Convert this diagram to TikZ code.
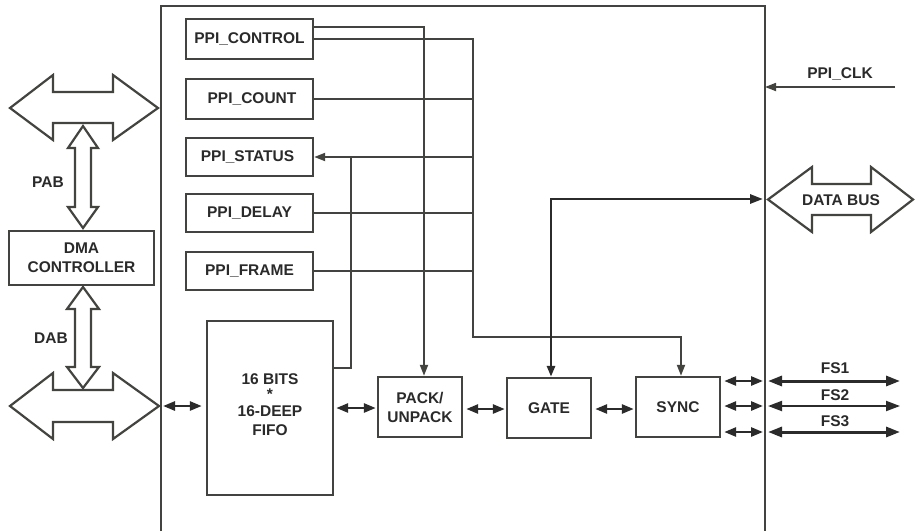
\documentclass[tikz,border=0pt]{standalone}
\usepackage{fontspec}
\setmainfont{Liberation Sans}
\usetikzlibrary{arrows.meta,calc}
\definecolor{linec}{HTML}{43443F}
\definecolor{textc}{HTML}{2A2A2A}
\definecolor{arrc}{HTML}{2B2B2B}
\tikzset{
  blk/.style={draw=linec, line width=2.4pt, fill=white, text=textc, inner sep=0pt,
    font=\fontsize{15.5}{19}\selectfont\bfseries, align=center},
  lbl/.style={text=textc, inner sep=0pt, font=\fontsize{15.5}{19}\selectfont\bfseries, align=center},
  wire/.style={draw=linec, line width=1.9pt},
  tipw/.style={-{Triangle[length=11pt,width=8pt]}},
  busline/.style={draw=arrc, line width=2.8pt},
  dbl/.style={draw=arrc, line width=2.6pt, {Triangle[length=12pt,width=9pt]}-{Triangle[length=12pt,width=9pt]}},
  fsl/.style={draw=arrc, {Triangle[length=14pt,width=10pt]}-{Triangle[length=14pt,width=10pt]}},
  hollow/.style={draw=linec, line width=2.2pt, fill=white, line join=miter}
}
\begin{document}
\begin{tikzpicture}[x=1pt,y=-1pt]
\useasboundingbox[fill=white] (0,0) rectangle (915,531);

% main block (open at the bottom)
\coordinate (mL) at (161,0);
\coordinate (mR) at (765,0);
\draw[draw=linec, line width=2.4pt] (161,531) -- (161,6) -- (765,6) -- (765,531);

% register boxes
\node[blk, minimum width=127pt, minimum height=40pt] (ctrl)   at (249.5,39) {PPI\_CONTROL};
\node[blk, minimum width=127pt, minimum height=40pt] (count)  at (249.5,99) {\hspace*{5pt}PPI\_COUNT};
\node[blk, minimum width=127pt, minimum height=38pt] (status) at (249.5,157)  {PPI\_STATUS\hspace*{4pt}};
\node[blk, minimum width=127pt, minimum height=38pt] (delay)  at (249.5,213)  {PPI\_DELAY};
\node[blk, minimum width=127pt, minimum height=38pt] (frame)  at (249.5,271){PPI\_FRAME};

% datapath blocks
\node[blk, minimum width=126pt, minimum height=174pt] (fifo) at (270,408) {};
\node[lbl] (fifotxt) at (270,405) {16 BITS\\[-4pt]*\\[-2pt]16-DEEP\\FIFO};
\node[blk, minimum width=84pt, minimum height=60pt] (pack) at (420,407) {PACK/\\UNPACK};
\node[blk, minimum width=84pt, minimum height=60pt] (gate) at (549,408) {GATE};
\node[blk, minimum width=84pt, minimum height=60pt] (sync) at (678,407) {SYNC};
\node[blk, minimum width=145pt, minimum height=54pt] (dma) at (81.5,258) {DMA\\CONTROLLER};

% hollow bus arrows (left)
\draw[hollow] (10,108) -- (53,75) -- (53,92) -- (113,92) -- (113,75) -- (158,108)
  -- (113,140) -- (113,123) -- (53,123) -- (53,140) -- cycle;
\draw[hollow] (10,406) -- (53,373) -- (53,390) -- (113,390) -- (113,373) -- (159,406)
  -- (113,439) -- (113,422) -- (53,422) -- (53,439) -- cycle;
\draw[hollow] (83,126) -- (98,148) -- (91,148) -- (91,207) -- (98,207) -- (83,228)
  -- (68,207) -- (75,207) -- (75,148) -- (68,148) -- cycle;
\draw[hollow] (83,287) -- (99,309) -- (91,309) -- (91,367) -- (99,367) -- (83,388)
  -- (67,367) -- (75,367) -- (75,309) -- (67,309) -- cycle;
\node[lbl] (pab) at (48,182) {PAB};
\node[lbl] (dab) at (51,338) {DAB};

% data bus hollow arrow (right)
\draw[hollow] (768,199.5) -- (812,167) -- (812,184) -- (871,184) -- (871,167) -- (913,199.5)
  -- (871,232) -- (871,215) -- (812,215) -- (812,232) -- cycle;
\node[lbl] (dbus) at (841,200) {DATA BUS};

% control wiring
\draw[wire, tipw] (ctrl.east |- 0,27) -- (424,27) -- (pack.north -| 424,0);
\draw[wire, tipw] (ctrl.east) -- (ctrl.east -| 473,0) -- (473,337) -- (681,337) -- (sync.north -| 681,0);
\draw[wire] (count.east) -- (count.east -| 473,0);
\draw[wire, tipw] (status.east -| 473,0) -- (status.east);
\draw[wire] (delay.east) -- (delay.east -| 473,0);
\draw[wire] (frame.east) -- (frame.east -| 473,0);
\draw[wire] (fifo.east |- 0,368) -- (351,368) -- (351,157);

% data bus connection
\draw[busline, {Triangle[length=11pt,width=8pt]}-{Triangle[length=13pt,width=9pt]}]
  (gate.north -| 551,0) -- (551,199) -- (763,199);

% PPI_CLK
\coordinate (clkin) at (895,87);
\draw[wire, line width=1.7pt, tipw] (clkin) -- (mR |- clkin);
\node[lbl] (clk) at (840,74) {PPI\_CLK};

% short double arrows
\draw[dbl, shorten <=2pt, shorten >=4pt] (mL |- 0,406) -- (fifo.west |- 0,406);
\draw[dbl, shorten <=2pt, shorten >=1pt] (fifo.east) -- (pack.west |- fifo.east);
\draw[dbl, shorten <=3pt, shorten >=1pt] (pack.east |- 0,409) -- (gate.west |- 0,409);
\draw[dbl, shorten <=3pt, shorten >=1pt] (gate.east |- 0,409) -- (sync.west |- 0,409);
\foreach \yy/\nm in {381/a,406/b,432/c}{
  \draw[dbl, shorten <=3pt, shorten >=2pt] (sync.east |- 0,\yy) -- (mR |- 0,\yy);
}
% external frame sync lines
\draw[fsl, line width=3pt] (768,381) -- (900,381);
\draw[fsl, line width=2pt] (768,406) -- (900,406);
\draw[fsl, line width=3pt] (768,432) -- (900,432);
\node[lbl] (fs1) at (835,368) {FS1};
\node[lbl] (fs2) at (835,395) {FS2};
\node[lbl] (fs3) at (835,421) {FS3};
\end{tikzpicture}
\end{document}
